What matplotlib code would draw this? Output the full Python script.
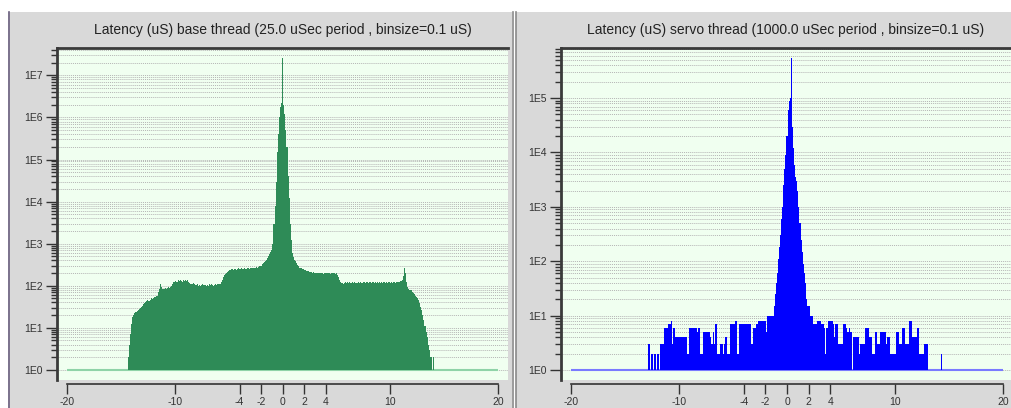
import numpy as np
import matplotlib.pyplot as plt
from matplotlib.patches import Rectangle
from matplotlib.lines import Line2D
from matplotlib.ticker import FixedLocator, FuncFormatter, NullFormatter

plt.rcParams['font.family'] = ['Liberation Sans', 'DejaVu Sans']

# histogram data: counts per 0.1 uS bin, first bin centred at -15.0 uS
binsize = 0.1
first_bin = -15.0

base_counts = [
    0, 0, 0, 0, 0, 1, 1, 2, 4, 7,
    12, 18, 20, 22, 24, 25, 27, 28, 30, 31,
    33, 36, 38, 40, 43, 45, 44, 47, 50, 48,
    52, 55, 53, 56, 58, 70, 82, 110, 95, 84,
    86, 88, 84, 90, 92, 87, 95, 100, 110, 120,
    125, 130, 122, 135, 128, 140, 132, 126, 138, 130,
    135, 128, 140, 124, 118, 112, 108, 115, 110, 105,
    103, 108, 100, 106, 98, 104, 110, 102, 107, 100,
    105, 99, 108, 103, 110, 104, 100, 107, 112, 106,
    110, 108, 112, 120, 140, 160, 180, 195, 205, 215,
    225, 240, 232, 250, 238, 245, 255, 242, 250, 258,
    248, 252, 260, 245, 255, 262, 250, 258, 265, 255,
    260, 268, 258, 265, 270, 262, 272, 268, 280, 290,
    300, 330, 350, 370, 390, 410, 450, 500, 580, 650,
    700, 1000, 3000, 8000, 30000, 150000, 400000, 1000000, 1800000, 2200000,
    26000000, 2000000, 1200000, 500000, 200000, 40000, 12000, 3000, 1200, 600,
    480, 420, 380, 340, 310, 290, 270, 260, 250, 245,
    240, 235, 230, 225, 220, 215, 212, 208, 205, 208,
    200, 205, 198, 202, 196, 200, 204, 198, 195, 200,
    203, 197, 202, 199, 195, 201, 198, 196, 200, 194,
    198, 180, 160, 140, 125, 115, 110, 118, 122, 116,
    120, 117, 123, 115, 119, 121, 116, 124, 118, 115,
    122, 118, 125, 119, 116, 121, 124, 117, 120, 123,
    118, 121, 115, 124, 120, 117, 122, 119, 125, 118,
    121, 116, 123, 119, 122, 118, 124, 117, 120, 126,
    119, 123, 118, 125, 121, 117, 124, 120, 122, 128,
    130, 140, 170, 260, 200, 120, 95, 85, 80, 78,
    72, 68, 62, 58, 54, 50, 45, 38, 32, 26,
    20, 15, 11, 8, 6, 4, 3, 2, 2, 1,
    2, 1, 1, 0, 1, 0, 0, 0, 0, 0,
]

servo_counts = [
    0, 0, 0, 0, 0, 0, 0, 0, 1, 0,
    0, 0, 0, 0, 0, 0, 1, 0, 0, 0,
    0, 0, 3, 3, 0, 2, 0, 2, 2, 0,
    2, 2, 0, 3, 3, 3, 3, 6, 6, 6,
    7, 7, 7, 8, 3, 6, 6, 4, 4, 4,
    4, 4, 4, 4, 4, 4, 4, 4, 2, 2,
    6, 6, 6, 6, 6, 6, 6, 5, 6, 6,
    2, 2, 2, 5, 5, 5, 5, 5, 5, 4,
    3, 3, 5, 3, 7, 7, 2, 2, 3, 3,
    3, 2, 3, 4, 4, 2, 2, 2, 7, 7,
    7, 7, 8, 8, 2, 2, 7, 7, 7, 7,
    7, 7, 7, 7, 7, 7, 7, 3, 3, 6,
    6, 6, 7, 7, 8, 8, 8, 8, 8, 8,
    8, 5, 10, 10, 10, 10, 10, 10, 15, 25,
    40, 60, 110, 180, 300, 600, 1000, 2500, 5000, 9000,
    20000, 60000, 90000, 100000, 540000, 30000, 12000, 6000, 3500, 3000,
    2000, 1000, 500, 250, 150, 90, 60, 40, 20, 15,
    15, 15, 10, 10, 10, 7, 7, 7, 8, 8,
    8, 8, 7, 7, 7, 6, 2, 6, 8, 8,
    8, 8, 8, 7, 4, 7, 7, 7, 3, 3,
    3, 3, 7, 7, 7, 6, 5, 5, 6, 5,
    5, 1, 4, 4, 4, 4, 4, 2, 3, 3,
    3, 3, 3, 6, 6, 6, 4, 4, 4, 2,
    2, 2, 5, 5, 3, 3, 3, 5, 5, 5,
    5, 5, 3, 4, 4, 4, 2, 2, 2, 2,
    2, 5, 5, 5, 3, 3, 3, 6, 6, 6,
    3, 3, 3, 8, 8, 8, 4, 4, 4, 4,
    4, 6, 6, 2, 2, 2, 2, 3, 3, 3,
    3, 1, 1, 1, 1, 1, 1, 1, 0, 1,
    1, 0, 0, 2, 0, 1, 1, 0, 0, 0,
]

xticks = [-20, -10, -4, -2, 0, 2, 4, 10, 20]
base_decades = [0, 1, 2, 3, 4, 5, 6, 7]
servo_decades = [0, 1, 2, 3, 4, 5]
titles = ["Latency (uS) base thread (25.0 uSec period , binsize=0.1 uS)",
          "Latency (uS) servo thread (1000.0 uSec period , binsize=0.1 uS)"]

W, H = 1011, 408
fig = plt.figure(figsize=(W / 100, H / 100), dpi=100)
fig.patch.set_facecolor('white')


def box(x0, y0, x1, y1):
    return [x0 / W, 1 - y1 / H, (x1 - x0) / W, (y1 - y0) / H]


# grey window panels
for x0, x1 in [(8, 512), (516, 1011)]:
    fig.patches.append(Rectangle((x0 / W, 0), (x1 - x0) / W, 1 - 12 / H,
                                 transform=fig.transFigure, facecolor='#d9d9d9',
                                 edgecolor='none', zorder=-10))
for xp, c in [(9, '#6b6080'), (513, '#8a8a8a'), (516, '#8a8a8a')]:
    fig.add_artist(Line2D([xp / W, xp / W], [0, 1 - 12 / H], color=c, lw=1.2,
                          zorder=-9))


def panel(rect, xlim, ylim, decades, counts, color, base_color, title):
    ax = fig.add_axes(box(*rect))
    ax.set_facecolor('#f0fff0')
    counts = np.array(counts, dtype=float)
    edges = first_bin - binsize / 2 + binsize * np.arange(len(counts) + 1)
    ax.hlines(1, -20, 20, color=base_color, lw=1.5, zorder=2)
    ax.stairs(np.maximum(counts, 1), edges, baseline=1, fill=True,
              color=color, lw=0, zorder=3)
    ax.set_yscale('log')
    ax.set_xlim(*xlim)
    ax.set_ylim(*ylim)

    majors = [10.0 ** d for d in decades]
    minors = [m * 10.0 ** d for d in decades for m in range(2, 10)
              if m * 10.0 ** d < ylim[1]]
    ax.yaxis.set_major_locator(FixedLocator(majors))
    ax.yaxis.set_minor_locator(FixedLocator(minors))
    ax.yaxis.set_major_formatter(FuncFormatter(lambda v, p: f"1E{int(round(np.log10(v)))}"))
    ax.yaxis.set_minor_formatter(NullFormatter())
    ax.set_axisbelow(True)
    ax.grid(which='both', axis='y', ls=(0, (1, 1)), color='#b5b5b5', lw=0.7)

    ax.set_xticks(xticks)
    ax.set_xticklabels([str(t) for t in xticks])

    ax.spines['right'].set_visible(False)
    ax.spines['left'].set_linewidth(2)
    ax.spines['left'].set_color('#3a3a3a')
    ax.spines['top'].set_linewidth(2)
    ax.spines['top'].set_color('#3a3a3a')
    ax.spines['bottom'].set_position(('outward', 3))
    ax.spines['bottom'].set_bounds(-20, 20)
    ax.spines['bottom'].set_color('#333333')
    ax.spines['bottom'].set_linewidth(1.2)

    ax.tick_params(axis='x', direction='out', length=7, width=1, labelsize=7.5,
                   pad=2, colors='#333333')
    ax.tick_params(axis='y', which='major', direction='out', length=8, width=1,
                   labelsize=7.5, pad=2, colors='#333333')
    ax.tick_params(axis='y', which='minor', direction='out', length=4, width=1,
                   colors='#333333')

    cx = (rect[0] + rect[2]) / 2
    fig.text(cx / W, 1 - 30 / H, title, ha='center', va='center',
             fontsize=10, color='#222222')
    return ax


panel((57, 48, 508, 380), (-20.93, 20.9), (10 ** -0.24, 10 ** 7.65),
      base_decades, base_counts, '#2e8b57', '#8fd3a8', titles[0])
panel((561, 48, 1011, 380), (-20.93, 20.74), (10 ** -0.18, 10 ** 5.92),
      servo_decades, servo_counts, '#0000ff', '#7a7aff', titles[1])

fig.savefig('out.png', dpi=100)
